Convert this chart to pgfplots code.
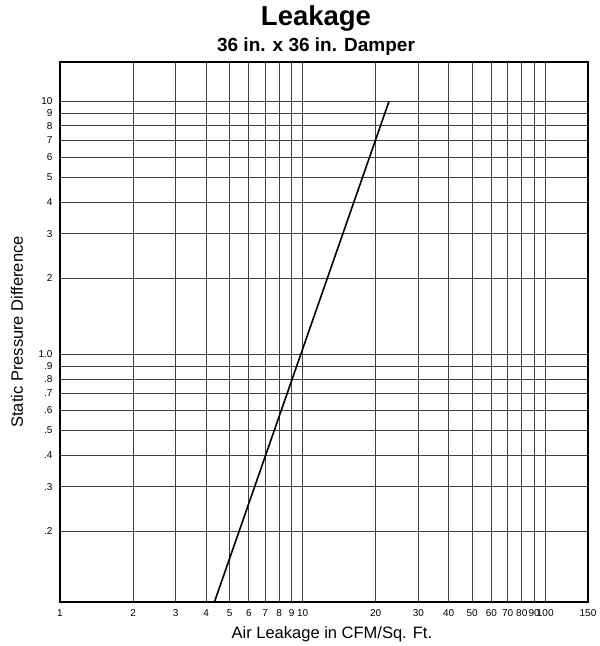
\documentclass[border=0pt]{standalone}
\usepackage{fontspec}
\setmainfont{Liberation Sans}
\usepackage{pgfplots}
\pgfplotsset{compat=1.18}
\begin{document}
\begin{tikzpicture}[x=1pt,y=1pt]
\useasboundingbox (-60,-44) rectangle (540,602);
\begin{axis}[
  at={(0,0)}, anchor=south west,
  width=528pt, height=540pt, scale only axis,
  xmode=log, ymode=log,
  xmin=1, xmax=150, ymin=0.105, ymax=14.3,
  xtick={1,2,3,4,5,6,7,8,9,10,20,30,40,50,60,70,80,90,100,150},
  xticklabels={1,2,3,4,5,6,7,8,9,10,20,30,40,50,60,70,80,90,100,150},
  ytick={0.2,0.3,0.4,0.5,0.6,0.7,0.8,0.9,1,2,3,4,5,6,7,8,9,10},
  yticklabels={.2,.3,.4,.5,.6,.7,.8,.9,1.0,2,3,4,5,6,7,8,9,10},
  minor xtick={}, minor ytick={},
  major tick length=0pt,
  grid=major,
  major grid style={black!75, line width=0.7pt},
  axis line style={line width=1.5pt},
  tick label style={font=\fontsize{10}{12}\selectfont},
  xticklabel style={yshift=-4pt, inner xsep=1pt},
  yticklabel style={xshift=-4pt},
  xlabel={Air Leakage in CFM/Sq. Ft.},
  ylabel={Static Pressure Difference},
  label style={font=\fontsize{16.5}{18}\selectfont},
  xlabel style={at={(axis description cs:0.515,-0.0593)}, anchor=center},
  ylabel style={at={(axis description cs:-0.0814,0.5)}, anchor=center},
]
\addplot[black, line width=1.6pt] coordinates {(4.33,0.105) (22.7,10)};
\end{axis}
\node[font=\bfseries\fontsize{27.5}{30}\selectfont] at (256,584) {Leakage};
\node[font=\bfseries\fontsize{19}{22}\selectfont] at (256,555) {36 in. x 36 in. Damper};
\end{tikzpicture}
\end{document}
